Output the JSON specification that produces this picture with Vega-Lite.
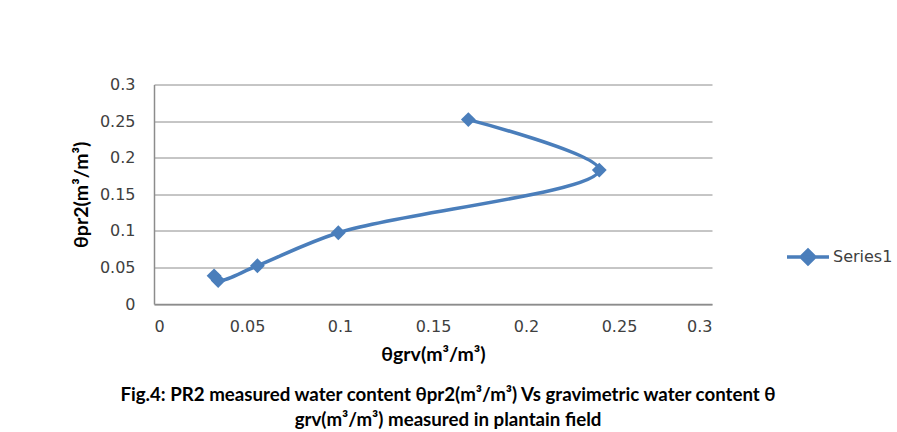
{
  "$schema": "https://vega.github.io/schema/vega-lite/v6.json",
  "width": 558,
  "height": 219.5,
  "autosize": {"type": "none"},
  "padding": {"left": 154, "top": 84.5, "right": 185, "bottom": 128},
  "background": "white",
  "title": {
    "text": ["Fig.4: PR2 measured water content θpr2(m³/m³) Vs gravimetric water content θ", "grv(m³/m³) measured in plantain field"],
    "orient": "bottom",
    "anchor": "middle",
    "font": "Lato",
    "fontSize": 18.7,
    "fontWeight": "bold",
    "color": "#000000",
    "lineHeight": 25,
    "offset": 22,
    "dx": 15
  },
  "data": {
    "values": [
      {"grv": 0.0323, "pr2": 0.0385, "i": 1},
      {"grv": 0.0345, "pr2": 0.032, "i": 2},
      {"grv": 0.0556, "pr2": 0.0523, "i": 3},
      {"grv": 0.0991, "pr2": 0.0974, "i": 4},
      {"grv": 0.2394, "pr2": 0.183, "i": 5},
      {"grv": 0.169, "pr2": 0.252, "i": 6}
    ]
  },
  "encoding": {
    "x": {
      "field": "grv",
      "type": "quantitative",
      "scale": {"domain": [0, 0.3], "nice": false, "zero": true},
      "axis": {
        "title": "θgrv(m³/m³)",
        "values": [0, 0.05, 0.1, 0.15, 0.2, 0.25, 0.3],
        "format": "~g",
        "grid": false,
        "ticks": false,
        "tickSize": 0,
        "labelPadding": 14,
        "titlePadding": 11
      }
    },
    "y": {
      "field": "pr2",
      "type": "quantitative",
      "scale": {"domain": [0, 0.3], "nice": false, "zero": true},
      "axis": {
        "title": "θpr2(m³/m³)",
        "values": [0, 0.05, 0.1, 0.15, 0.2, 0.25, 0.3],
        "format": "~g",
        "grid": true,
        "ticks": false,
        "tickSize": 0,
        "labelPadding": 19,
        "titlePadding": 8
      }
    },
    "order": {"field": "i", "type": "quantitative"},
    "color": {
      "datum": "Series1",
      "type": "nominal",
      "scale": {"range": ["#4a7ebb"]},
      "legend": {
        "title": null,
        "orient": "none",
        "legendX": 631,
        "legendY": 149.5,
        "padding": 0,
        "symbolType": "M-1,0L1,0M-0.33,0L0,-0.33L0.33,0L0,0.33Z",
        "symbolSize": 1764,
        "symbolStrokeWidth": 3.4,
        "symbolFillColor": "#4a7ebb",
        "symbolStrokeColor": "#4a7ebb",
        "labelFont": "DejaVu Sans",
        "labelFontSize": 16,
        "labelColor": "#404040",
        "labelOffset": 2
      }
    }
  },
  "layer": [
    {"mark": {"type": "line", "interpolate": "catmull-rom", "strokeWidth": 3.6}},
    {"mark": {"type": "point", "shape": "diamond", "filled": true, "size": 220, "opacity": 1}}
  ],
  "config": {
    "view": {"stroke": null},
    "axis": {
      "domainColor": "#8c8c8c",
      "domainWidth": 1.5,
      "gridColor": "#8c8c8c",
      "gridWidth": 1,
      "labelFont": "DejaVu Sans",
      "labelFontSize": 16,
      "labelColor": "#404040",
      "titleFont": "Lato",
      "titleFontSize": 19.5,
      "titleFontWeight": "bold",
      "titleColor": "#000000"
    }
  }
}
